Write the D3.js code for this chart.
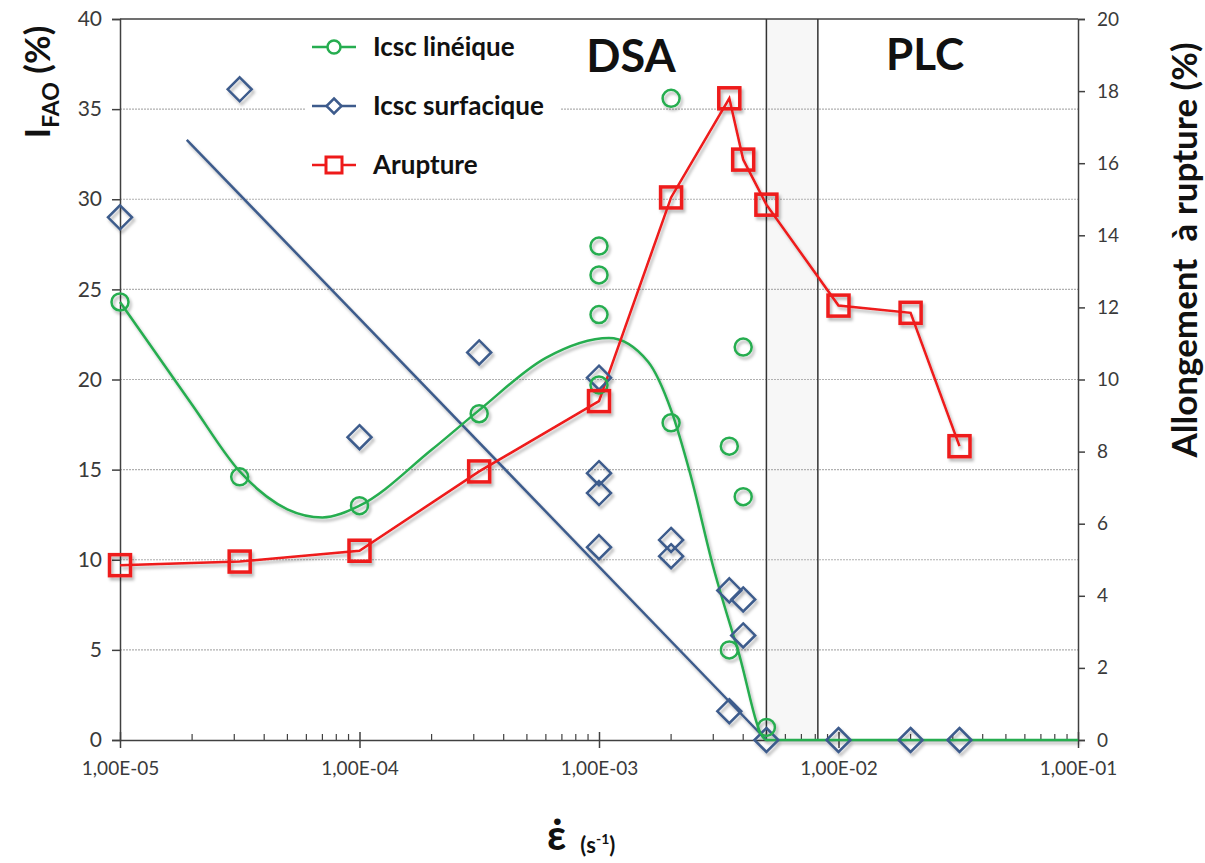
<!DOCTYPE html>
<html>
<head>
<meta charset="utf-8">
<script src="https://cdn.jsdelivr.net/npm/d3@7"></script>
<style>
  body { margin: 0; background: #fff; }
  text { font-family: Lato, "Open Sans", sans-serif; }
</style>
</head>
<body>
<svg id="chart" width="1205" height="863"></svg>
<script>
// ---- data ----
const xTickValues = [1e-5, 1e-4, 1e-3, 1e-2, 1e-1];
const xTickLabels = ['1,00E-05', '1,00E-04', '1,00E-03', '1,00E-02', '1,00E-01'];
const leftTicks = [0, 5, 10, 15, 20, 25, 30, 35, 40];
const rightTicks = [0, 2, 4, 6, 8, 10, 12, 14, 16, 18, 20];

// regime limits (DSA | band | PLC)
const bandLimits = [5e-3, 8.2e-3];

// Icsc linéique points (left axis)
const lineiquePoints = [
    [1e-5, 24.3], [3.16e-5, 14.6], [1e-4, 13.0], [3.16e-4, 18.1],
    [1e-3, 27.4], [1e-3, 25.8], [1e-3, 23.6], [1e-3, 19.7],
    [2e-3, 35.6], [2e-3, 17.6], [3.5e-3, 16.3], [3.5e-3, 5.0],
    [4e-3, 21.8], [4e-3, 13.5], [5e-3, 0.7]
];
// smoothed trend of Icsc linéique
const lineiqueTrend = [
    [1e-5, 24.3], [2e-5, 18.6], [3.16e-5, 14.9], [5e-5, 12.8], [7e-5, 12.35],
    [1e-4, 13.0], [2e-4, 16.1], [3.16e-4, 18.3], [6e-4, 21.2], [1.1e-3, 22.3],
    [1.6e-3, 21.0], [2e-3, 18.3], [2.4e-3, 14.8], [3e-3, 9.6], [3.8e-3, 5.0],
    [5e-3, 0], [1e-1, 0]
];

// Icsc surfacique points (left axis)
const surfaciquePoints = [
    [1e-5, 29.0], [3.16e-5, 36.1], [1e-4, 16.8], [3.16e-4, 21.5],
    [1e-3, 20.1], [1e-3, 14.8], [1e-3, 13.7], [1e-3, 10.7],
    [2e-3, 11.1], [2e-3, 10.2], [3.5e-3, 8.3], [4e-3, 7.8],
    [4e-3, 5.8], [3.5e-3, 1.6], [5e-3, 0], [1e-2, 0], [2e-2, 0], [3.2e-2, 0]
];
// log trend line of Icsc surfacique
const surfaciqueTrend = [[1.9e-5, 33.3], [5e-3, 0]];

// Arupture (right axis)
const arupturePoints = [
    [1e-5, 4.85], [3.16e-5, 4.95], [1e-4, 5.25], [3.16e-4, 7.45],
    [1e-3, 9.4], [2e-3, 15.05], [3.5e-3, 17.8], [4e-3, 16.1],
    [5e-3, 14.85], [1e-2, 12.05], [2e-2, 11.85], [3.2e-2, 8.15]
];

const colors = {
    green: '#26ad50',
    blue: '#3d5b8c',
    red: '#ee1a1a',
    axis: '#404040',
    grid: '#b0b0b0',
    text: '#3a3a3a'
};

const plot = { left: 120, right: 1078, top: 19, bottom: 740 };

const svg = d3.select('#chart');

const x = d3.scaleLog().domain([1e-5, 1e-1]).range([plot.left, plot.right]);
const yLeft = d3.scaleLinear().domain([0, 40]).range([plot.bottom, plot.top]);
const yRight = d3.scaleLinear().domain([0, 20]).range([plot.bottom, plot.top]);

// shadow filter (Excel style)
const defs = svg.append('defs');
const shadow = defs.append('filter').attr('id', 'shadow')
    .attr('x', '-50%').attr('y', '-50%').attr('width', '200%').attr('height', '200%');
shadow.append('feDropShadow')
    .attr('dx', 2).attr('dy', 3).attr('stdDeviation', 1.6)
    .attr('flood-color', '#000').attr('flood-opacity', 0.28);

// shaded band
svg.append('rect')
    .attr('x', x(bandLimits[0]))
    .attr('y', plot.top)
    .attr('width', x(bandLimits[1]) - x(bandLimits[0]))
    .attr('height', plot.bottom - plot.top)
    .attr('fill', '#f7f7f7');

// gridlines
svg.append('g')
    .selectAll('line')
    .data(leftTicks.filter(d => d > 0 && d < 40))
    .join('line')
    .attr('x1', plot.left).attr('x2', plot.right)
    .attr('y1', d => yLeft(d)).attr('y2', d => yLeft(d))
    .attr('stroke', colors.grid)
    .attr('stroke-width', 1.2)
    .attr('stroke-dasharray', '2,1');

// top border
svg.append('line')
    .attr('x1', plot.left).attr('x2', plot.right)
    .attr('y1', plot.top).attr('y2', plot.top)
    .attr('stroke', colors.axis).attr('stroke-width', 1.5);

// band borders
svg.append('g')
    .selectAll('line')
    .data(bandLimits)
    .join('line')
    .attr('x1', d => x(d)).attr('x2', d => x(d))
    .attr('y1', plot.top).attr('y2', plot.bottom)
    .attr('stroke', '#333').attr('stroke-width', 1.5);

// left axis
const leftAxis = svg.append('g')
    .attr('transform', `translate(${plot.left},0)`)
    .call(d3.axisLeft(yLeft).tickValues(leftTicks).tickSize(8).tickPadding(10));
leftAxis.select('.domain').attr('stroke', colors.axis).attr('stroke-width', 1.5);
leftAxis.selectAll('.tick line').attr('stroke', colors.axis).attr('stroke-width', 1.5);
leftAxis.selectAll('.tick text')
    .attr('fill', colors.text)
    .style('font-size', '21px')
    .style('font-family', 'Lato, sans-serif');

// right axis
const rightAxis = svg.append('g')
    .attr('transform', `translate(${plot.right},0)`)
    .call(d3.axisRight(yRight).tickValues(rightTicks).tickSize(7).tickPadding(12));
rightAxis.select('.domain').attr('stroke', colors.axis).attr('stroke-width', 1.5);
rightAxis.selectAll('.tick line').attr('stroke', colors.axis).attr('stroke-width', 1.5);
rightAxis.selectAll('.tick text')
    .attr('fill', colors.text)
    .style('font-size', '19px')
    .style('font-family', 'Lato, sans-serif');

// bottom axis: minor ticks inside, major ticks crossing
const minorTicks = x.ticks().filter(d => !xTickValues.includes(d));
svg.append('g')
    .selectAll('line')
    .data(minorTicks)
    .join('line')
    .attr('x1', d => x(d)).attr('x2', d => x(d))
    .attr('y1', plot.bottom).attr('y2', plot.bottom - 6)
    .attr('stroke', colors.axis).attr('stroke-width', 1.2);

const bottomAxis = svg.append('g')
    .attr('transform', `translate(0,${plot.bottom})`)
    .call(d3.axisBottom(x).tickValues(xTickValues)
        .tickFormat((d, i) => xTickLabels[i]).tickSizeInner(8).tickSizeOuter(0).tickPadding(14));
bottomAxis.select('.domain').attr('stroke', colors.axis).attr('stroke-width', 1.5);
bottomAxis.selectAll('.tick line')
    .attr('y1', -8).attr('y2', 8)
    .attr('stroke', colors.axis).attr('stroke-width', 1.5);
bottomAxis.selectAll('.tick text')
    .attr('fill', colors.text)
    .style('font-size', '19px')
    .style('font-family', 'Lato, sans-serif');

// ---- series ----
const lineLeft = d3.line().x(d => x(d[0])).y(d => yLeft(d[1]));
const lineRight = d3.line().x(d => x(d[0])).y(d => yRight(d[1]));

const series = svg.append('g').attr('filter', 'url(#shadow)');

// surfacique trend
series.append('path')
    .datum(surfaciqueTrend)
    .attr('d', lineLeft)
    .attr('fill', 'none')
    .attr('stroke', colors.blue)
    .attr('stroke-width', 2.5);

// lineique trend
series.append('path')
    .datum(lineiqueTrend)
    .attr('d', d3.line().curve(d3.curveMonotoneX).x(d => x(d[0])).y(d => yLeft(d[1])))
    .attr('fill', 'none')
    .attr('stroke', colors.green)
    .attr('stroke-width', 2.5);

// arupture line
series.append('path')
    .datum(arupturePoints)
    .attr('d', lineRight)
    .attr('fill', 'none')
    .attr('stroke', colors.red)
    .attr('stroke-width', 2.5);

function diamondPath(cx, cy, r) {
    return `M${cx},${cy - r}L${cx + r},${cy}L${cx},${cy + r}L${cx - r},${cy}Z`;
}

// diamonds
series.append('g')
    .selectAll('path')
    .data(surfaciquePoints)
    .join('path')
    .attr('d', d => diamondPath(x(d[0]), yLeft(d[1]), 12))
    .attr('fill', 'none')
    .attr('stroke', colors.blue)
    .attr('stroke-width', 2.5);

// circles
series.append('g')
    .selectAll('circle')
    .data(lineiquePoints)
    .join('circle')
    .attr('cx', d => x(d[0]))
    .attr('cy', d => yLeft(d[1]))
    .attr('r', 8.5)
    .attr('fill', 'none')
    .attr('stroke', colors.green)
    .attr('stroke-width', 2.5);

// squares
series.append('g')
    .selectAll('rect')
    .data(arupturePoints)
    .join('rect')
    .attr('x', d => x(d[0]) - 10.5)
    .attr('y', d => yRight(d[1]) - 10.5)
    .attr('width', 21)
    .attr('height', 21)
    .attr('fill', 'none')
    .attr('stroke', colors.red)
    .attr('stroke-width', 3.5);

// ---- legend ----
const legendItems = [
    { label: 'Icsc linéique', color: colors.green, type: 'circle' },
    { label: 'Icsc surfacique', color: colors.blue, type: 'diamond' },
    { label: 'Arupture', color: colors.red, type: 'square' }
];

svg.append('rect')
    .attr('x', 306).attr('y', 24)
    .attr('width', 255).attr('height', 166)
    .attr('fill', '#fff');

const legend = svg.append('g').attr('transform', 'translate(312,47)');
const rows = legend.selectAll('g')
    .data(legendItems)
    .join('g')
    .attr('transform', (d, i) => `translate(0,${i * 59})`);

rows.append('line')
    .attr('x1', 0).attr('x2', 44)
    .attr('stroke', d => d.color)
    .attr('stroke-width', 2.5);

rows.each(function (d) {
    const g = d3.select(this);
    if (d.type === 'circle') {
        g.append('circle').attr('cx', 22).attr('r', 6.5)
            .attr('fill', '#fff').attr('stroke', d.color).attr('stroke-width', 2.5);
    } else if (d.type === 'diamond') {
        g.append('path').attr('d', diamondPath(22, 0, 7.5))
            .attr('fill', '#fff').attr('stroke', d.color).attr('stroke-width', 2.5);
    } else {
        g.append('rect').attr('x', 14).attr('y', -8).attr('width', 16).attr('height', 16)
            .attr('fill', '#fff').attr('stroke', d.color).attr('stroke-width', 3);
    }
});

rows.append('text')
    .attr('x', 61)
    .attr('dy', '0.35em')
    .attr('fill', '#111')
    .style('font-size', '26px')
    .style('font-weight', 'bold')
    .text(d => d.label);

// ---- region labels ----
svg.append('text')
    .attr('x', 631).attr('y', 72)
    .attr('text-anchor', 'middle')
    .style('font-size', '45px').style('font-weight', 'bold')
    .attr('fill', '#111')
    .text('DSA');

svg.append('text')
    .attr('x', 925).attr('y', 70)
    .attr('text-anchor', 'middle')
    .style('font-size', '44px').style('font-weight', 'bold')
    .attr('fill', '#111')
    .text('PLC');

// ---- axis titles ----
const yTitle = svg.append('text')
    .attr('transform', 'translate(50,82) rotate(-90)')
    .attr('text-anchor', 'middle')
    .attr('fill', '#111')
    .style('font-size', '35px')
    .style('font-weight', 'bold');
yTitle.append('tspan').text('I');
yTitle.append('tspan').attr('dy', 9).style('font-size', '23px').text('FAO');
yTitle.append('tspan').attr('dy', -9).text(' (%)');

svg.append('text')
    .attr('transform', 'translate(1197,250) rotate(-90)')
    .attr('text-anchor', 'middle')
    .attr('fill', '#111')
    .style('font-size', '35px')
    .style('font-weight', 'bold')
    .style('white-space', 'pre')
    .text('Allongement  à rupture (%)');

const xTitle = svg.append('text')
    .attr('x', 547).attr('y', 850)
    .attr('fill', '#111')
    .style('font-weight', 'bold');
xTitle.append('tspan').style('font-size', '42px').text('ε\u0307');
xTitle.append('tspan').attr('dx', 14).attr('dy', 3).style('font-size', '22px').text('(s');
xTitle.append('tspan').attr('dy', -9).style('font-size', '14px').text('-1');
xTitle.append('tspan').attr('dy', 9).style('font-size', '22px').text(')');
</script>
</body>
</html>
